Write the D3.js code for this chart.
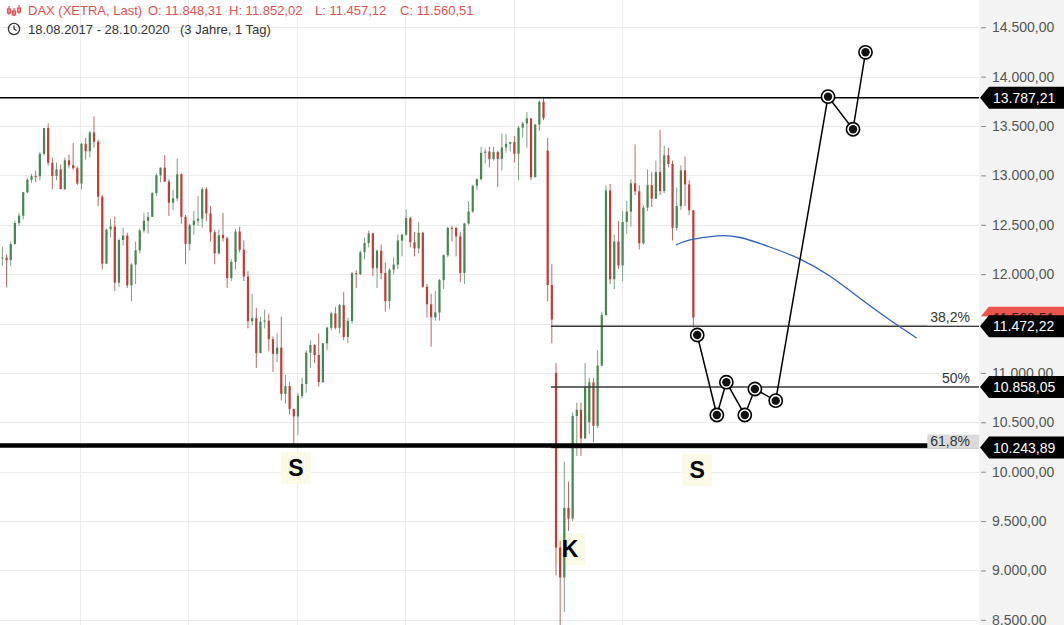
<!DOCTYPE html>
<html><head><meta charset="utf-8">
<script src="https://cdn.jsdelivr.net/npm/d3@7"></script>
<style>
html,body{margin:0;padding:0;background:#fff;}
svg{display:block;font-family:"Liberation Sans",Arial,sans-serif;}
</style></head><body>
<svg id="chart" width="1064" height="625"></svg>
<script>
// ---- weekly DAX candles (week starting Monday 14.08.2017 ... 26.10.2020) ----
const weekOpen = [
12200,12165,12168,12142,12304,12518,12592,12829,12956,12992,12991,13218,13479,13127,12994,13060,12861,13153,13104,13072,
12918,13320,13245,13434,13340,12785,12107,12452,12483,11914,12346,12390,11886,12097,12241,12442,12540,12580,12820,13001,13078,12938,12724,12767,13011,12580,12306,12496,12541,12561,12860,12616,12424,12211,12395,12364,11960,12124,12431,12247,11976,11524,11554,11201,11519,11530,11341,11193,11257,10788,10866,10634,10559,
10768,10888,11205,11282,11181,10907,11300,11458,11602,11458,11686,11364,11526,12010,11999,12222,12315,12413,12060,12238,12011,11727,12045,12096,12340,12399,12568,12323,12260,12419,11872,11694,11563,11612,11939,12192,12469,12468,12381,12013,12512,12634,12895,12961,13229,13242,13164,13236,13167,13283,13319,13337,
13219,13483,13526,13577,12982,13514,13745,13250,11890,11000,9232,8929,9633,9525,10564,10626,10337,10500,10904,10465,11074,11587,12848,11949,12331,12089,12528,12633,12920,12838,12313,12674,12901,12765,13033,12842,13203,13116,12469,12689,13051,12909,12646];
const weekHigh = [
12230,12277,12200,12330,12540,12620,12830,12973,13015,13047,13239,13479,13526,13180,13130,13110,13180,13210,13330,13090,
13330,13380,13450,13597,13360,12800,12460,12560,12580,12360,12470,12420,12110,12330,12460,12620,12630,12830,13020,13080,13205,12960,12850,13170,13020,12600,12510,12640,12790,12880,12880,12690,12450,12450,12620,12380,12150,12460,12480,12340,12030,11800,11660,11570,11640,11600,11370,11400,11570,10980,10910,10640,10800,
10950,11230,11330,11290,11400,11300,11470,11620,11670,11700,11820,11560,12020,12040,12240,12370,12440,12420,12250,12300,12120,12060,12170,12400,12410,12656,12580,12430,12530,12430,11900,11800,11830,11950,12200,12480,12490,12480,12430,12520,12740,12900,12970,13290,13270,13290,13290,13250,13425,13420,13340,13400,
13500,13540,13640,13580,13520,13760,13795,13380,12100,11100,9300,10100,9900,10600,10700,10700,11100,10950,10950,11230,11620,12900,12913,12400,12540,12640,12740,12960,13313,12900,12700,13060,13030,13150,13460,13300,13280,13150,12880,13100,13190,12950,12650];
const weekLow = [
12149,12087,11868,12085,12300,12490,12555,12820,12921,12930,12950,13200,13100,12860,12950,12860,12850,13070,13060,12900,
12860,13160,13180,13280,12690,12050,12100,12370,11830,11870,12290,11860,11726,11900,12210,12420,12410,12580,12790,12930,12930,12590,12650,12740,12510,12100,12240,12400,12490,12470,12540,12330,12100,12200,12330,11860,11930,12050,12220,11930,11450,11480,11051,11200,11450,11220,11010,11110,10720,10690,10580,10279,10370,
10740,10800,11050,11100,10860,10900,11230,11430,11440,11400,11330,11300,11500,11860,11990,12150,12270,11980,11860,11950,11620,11650,12000,12050,12180,12390,12270,12180,12210,11860,11560,11266,11530,11530,11850,12170,12330,12180,11920,11900,12500,12620,12850,12950,13120,13080,13150,12880,13050,13230,13240,13130,
12950,13380,13280,12950,12980,13450,13560,11724,11300,8950,8255,8580,9400,9500,10160,10160,10330,10380,10300,10440,11070,11580,11900,11850,12050,11930,12410,12480,12800,12250,12300,12640,12680,12760,12800,12820,13080,12340,12440,12650,12690,12600,11457];
const weekClose = [
12165,12168,12142,12304,12518,12592,12829,12956,12992,12991,13218,13479,13127,12994,13060,12861,13153,13104,13072,12918,
13320,13245,13434,13340,12785,12107,12452,12483,11914,12346,12390,11886,12097,12241,12442,12540,12580,12820,13001,13078,12938,12724,12767,13011,12580,12306,12496,12541,12561,12860,12616,12424,12211,12395,12364,11960,12124,12431,12247,11976,11524,11554,11201,11519,11530,11341,11193,11257,10788,10866,10634,10559,10768,
10888,11205,11282,11181,10907,11300,11458,11602,11458,11686,11364,11526,12010,11999,12222,12315,12413,12060,12238,12011,11727,12045,12096,12340,12399,12568,12323,12260,12419,11872,11694,11563,11612,11939,12192,12469,12468,12381,12013,12512,12634,12895,12961,13229,13242,13164,13236,13167,13283,13319,13337,13219,
13483,13526,13577,12982,13514,13745,13579,11890,11541,9232,8929,9633,9525,10564,10626,10337,10861,10904,10465,11074,11587,12848,11949,12331,12089,12528,12633,12920,12838,12313,12674,12901,12765,13033,12842,13203,13116,12469,12689,13051,12909,12646,11560];

// ---- axis ticks ----
const yTicks = [8500,9000,9500,10000,10500,11000,11500,12000,12500,13000,13500,14000,14500];
const gridDates = ["2018-01-01","2018-07-01","2019-01-01","2019-07-01","2020-01-01","2020-07-01"];

// ---- drawn levels ----
const resistanceLevel = 13787.21;
const supportLevel = 10265;
const fibValues = [11472.22, 10858.05, 10243.89];
const fibLabels = ["38,2%", "50%", "61,8%"];
const fibStart = "2020-03-03";
const lastPrice = 11560.51;

// ---- scenario path (circled points) ----
const scenarioDates = ["2020-11-04","2020-12-07","2020-12-23","2021-01-23","2021-02-09","2021-03-16","2021-06-12","2021-07-24","2021-08-14"];
const scenarioValues = [11384,10574,10906,10574,10837,10719,13797,13467,14246];

// ---- blue arc ----
const trendDates = ["2020-09-29","2020-10-23","2020-12-04","2021-01-15","2021-03-06","2021-04-26","2021-06-15","2021-08-04","2021-09-24","2021-11-08"];
const trendValues = [12295,12346,12386,12371,12275,12153,11981,11758,11535,11353];

// ---- letter annotations ----
const annoLetters = ["S","K","S"];
const annoDates = ["2018-12-30","2020-04-04","2020-11-04"];
const annoValues = [10037, 9217, 10017];

// ---- header ----
const headerParts = ["DAX (XETRA, Last)", "O: 11.848,31", "H: 11.852,02", "L: 11.457,12", "C: 11.560,51"];
const headerRange = "18.08.2017 - 28.10.2020";
const headerSpan = "(3 Jahre, 1 Tag)";

const W = 1064, H = 625, plotRight = 979;
const parse = d3.timeParse("%Y-%m-%d");
const de = d3.formatLocale({decimal: ",", thousands: ".", grouping: [3], currency: ["", "€"]});
const fmt = de.format(",.2f");

const x = d3.scaleTime().domain([new Date(2018,0,1), new Date(2020,6,1)]).range([80, 622.3]);
const y = d3.scaleLinear().domain([10500, 13500]).range([422.3, 126]);

const svg = d3.select("#chart");
svg.append("rect").attr("width", W).attr("height", H).attr("fill", "#fff");

// grid
const grid = svg.append("g");
grid.selectAll("line.h").data(yTicks).join("line")
  .attr("x1", 0).attr("x2", plotRight).attr("y1", d => Math.round(y(d)) + 0.5).attr("y2", d => Math.round(y(d)) + 0.5)
  .attr("stroke", "#ebebeb").attr("stroke-width", 1);
grid.selectAll("line.v").data(gridDates.map(parse)).join("line")
  .attr("x1", d => Math.round(x(d)) + 0.5).attr("x2", d => Math.round(x(d)) + 0.5).attr("y1", 0).attr("y2", H)
  .attr("stroke", "#ececec").attr("stroke-width", 1);

// letter annotation boxes (behind candles)
const annos = annoLetters.map((t, i) => ({t, d: parse(annoDates[i]), v: annoValues[i]}));
svg.append("g").selectAll("rect").data(annos).join("rect")
  .attr("x", d => x(d.d) - 15).attr("y", d => y(d.v) - 16).attr("width", 30).attr("height", 32)
  .attr("fill", "#fafae6");

// candles
const weeks = d3.timeMonday.range(new Date(2017,7,14), new Date(2020,9,27));
const candles = weeks.map((d, i) => ({date: d3.timeHour.offset(d, 60), o: weekOpen[i], h: weekHigh[i], l: weekLow[i], c: weekClose[i]}));
const up = "#45874d", down = "#c23b37";
const cg = svg.append("g");
cg.selectAll("line").data(candles).join("line")
  .attr("x1", d => x(d.date)).attr("x2", d => x(d.date))
  .attr("y1", d => y(d.h)).attr("y2", d => y(d.l))
  .attr("stroke", d => d.c >= d.o ? "#7f9f83" : "#b86a66").attr("stroke-width", 1);
cg.selectAll("rect").data(candles).join("rect")
  .attr("x", d => x(d.date) - 1.1).attr("width", 2.2)
  .attr("y", d => y(Math.max(d.o, d.c))).attr("height", d => Math.max(1, Math.abs(y(d.o) - y(d.c))))
  .attr("fill", d => d.c >= d.o ? up : down);

// letters
svg.append("g").selectAll("text").data(annos).join("text")
  .attr("x", d => x(d.d)).attr("y", d => y(d.v) + 8).attr("text-anchor", "middle")
  .attr("font-size", 23).attr("font-weight", "bold").attr("fill", "#000").text(d => d.t);

// resistance line
svg.append("line").attr("x1", 0).attr("x2", plotRight).attr("y1", y(resistanceLevel)).attr("y2", y(resistanceLevel))
  .attr("stroke", "#000").attr("stroke-width", 1.5);

// fib lines
const fx0 = x(parse(fibStart));
const fg = svg.append("g");
fg.selectAll("line").data(fibValues).join("line")
  .attr("x1", fx0).attr("x2", plotRight).attr("y1", d => y(d)).attr("y2", d => y(d))
  .attr("stroke", "#3a3a3a").attr("stroke-width", 1.5);

// support line (thick)
svg.append("line").attr("x1", 0).attr("x2", plotRight).attr("y1", y(supportLevel)).attr("y2", y(supportLevel))
  .attr("stroke", "#000").attr("stroke-width", 4.5);

// fib labels
const lg = svg.append("g");
fibValues.forEach((v, i) => {
  const off = i === 2 ? 2 : 4;
  const t = lg.append("text").attr("x", 970).attr("y", y(v) - off).attr("text-anchor", "end")
    .attr("font-size", 14).attr("fill", "#333").text(fibLabels[i]);
  const bb = t.node().getBBox();
  lg.insert("rect", () => t.node())
    .attr("x", bb.x - 3).attr("y", bb.y + 2).attr("width", plotRight - bb.x + 3).attr("height", y(v) - bb.y - (i === 2 ? 1.5 : 3))
    .attr("fill", i === 2 ? "#dadada" : "#fff");
});

// blue arc
const trend = trendDates.map((d, i) => [parse(d), trendValues[i]]);
svg.append("path").datum(trend)
  .attr("d", d3.line().x(d => x(d[0])).y(d => y(d[1])).curve(d3.curveNatural))
  .attr("fill", "none").attr("stroke", "#2f60bd").attr("stroke-width", 1.3);

// scenario path
const scen = scenarioDates.map((d, i) => [parse(d), scenarioValues[i]]);
svg.append("path").datum(scen)
  .attr("d", d3.line().x(d => x(d[0])).y(d => y(d[1])))
  .attr("fill", "none").attr("stroke", "#000").attr("stroke-width", 1.5);
const sg = svg.append("g");
sg.selectAll("circle.o").data(scen).join("circle").attr("class", "o")
  .attr("cx", d => x(d[0])).attr("cy", d => y(d[1])).attr("r", 6.6)
  .attr("fill", "#fff").attr("stroke", "#000").attr("stroke-width", 1.6);
sg.selectAll("circle.i").data(scen).join("circle").attr("class", "i")
  .attr("cx", d => x(d[0])).attr("cy", d => y(d[1])).attr("r", 4.2).attr("fill", "#111");

// right axis panel
svg.append("rect").attr("x", plotRight).attr("y", 0).attr("width", W - plotRight).attr("height", H).attr("fill", "#f3f3f3");
const axis = d3.axisRight(y).tickValues(yTicks).tickFormat(fmt).tickSize(5).tickPadding(6);
const ax = svg.append("g").attr("transform", `translate(${plotRight + 2},0)`).call(axis);
ax.select(".domain").remove();
ax.selectAll(".tick line").attr("stroke", "#888");
ax.selectAll(".tick text").attr("font-size", 14).attr("fill", "#555").attr("font-family", "Liberation Sans, Arial, sans-serif");

// price tags
const defs = svg.append("defs");
function tag(v, fill, textFill, clipBottom) {
  const cy = y(v), h = 22;
  const g = svg.append("g");
  if (clipBottom !== undefined) {
    const id = "clip" + Math.round(v);
    defs.append("clipPath").attr("id", id).append("rect")
      .attr("x", plotRight).attr("y", cy - h/2).attr("width", W - plotRight).attr("height", clipBottom - (cy - h/2));
    g.attr("clip-path", `url(#${id})`);
  }
  g.append("path").attr("d", `M${plotRight + 1},${cy} L${plotRight + 10},${cy - h/2} L${W},${cy - h/2} L${W},${cy + h/2} L${plotRight + 10},${cy + h/2} Z`).attr("fill", fill);
  g.append("text").attr("x", 993).attr("y", cy + 5).attr("font-size", 14).attr("fill", textFill).text(fmt(v));
}
tag(lastPrice, "#e9544d", "#222", y(fibValues[0]) - 10);
tag(resistanceLevel, "#000", "#fff");
fibValues.forEach(v => tag(v, "#000", "#fff"));

// header
const hg = svg.append("g").attr("font-size", 13);
const headerX = [28, 148, 229, 315, 400];
hg.selectAll("text.p").data(headerParts).join("text")
  .attr("x", (d, i) => headerX[i]).attr("y", 15).attr("fill", "#e05252").text(d => d);
const ic = hg.append("g").attr("stroke", "#e05252").attr("fill", "none").attr("stroke-width", 1.2);
[[9, 6, 15], [14, 8, 16], [19, 5, 14]].forEach(([cx, a, b]) => {
  ic.append("line").attr("x1", cx).attr("x2", cx).attr("y1", a).attr("y2", b);
  ic.append("rect").attr("x", cx - 1.5).attr("y", a + 3).attr("width", 3).attr("height", 4);
});
hg.append("text").attr("x", 28).attr("y", 34).attr("fill", "#333").text(headerRange);
hg.append("text").attr("x", 180).attr("y", 34).attr("fill", "#333").text(headerSpan);
const clk = hg.append("g").attr("stroke", "#333").attr("fill", "none").attr("stroke-width", 1.3);
clk.append("circle").attr("cx", 14).attr("cy", 29).attr("r", 5.6);
clk.append("polyline").attr("points", "14,25.5 14,29 16.5,30.5");
</script>
</body></html>
